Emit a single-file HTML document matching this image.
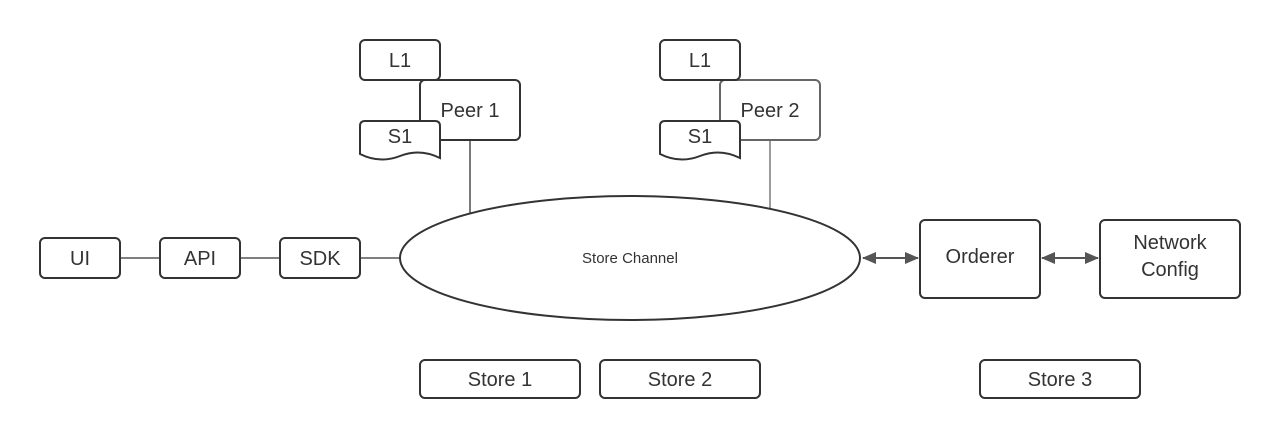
<!DOCTYPE html>
<html><head><style>body{margin:0;background:#fff}</style></head><body>
<svg width="1280" height="440" xmlns="http://www.w3.org/2000/svg" font-family="Liberation Sans, sans-serif" fill="none" stroke="#333" stroke-width="2">
<defs><marker id="a" markerWidth="14" markerHeight="12" refX="13" refY="6" orient="auto-start-reverse" markerUnits="userSpaceOnUse"><path d="M0,0 L14,6 L0,12z" fill="#555" stroke="none"/></marker></defs>
<g stroke-width="1.3">
<line x1="470" y1="140" x2="470" y2="214"/>
<line x1="770" y1="140" x2="770" y2="211" stroke="#666"/>
<line x1="120" y1="258" x2="160" y2="258"/>
<line x1="240" y1="258" x2="280" y2="258"/>
<line x1="360" y1="258" x2="400" y2="258"/>
</g>
<g stroke="#555" stroke-width="2">
<line x1="863" y1="258" x2="918" y2="258" marker-start="url(#a)" marker-end="url(#a)"/>
<line x1="1042" y1="258" x2="1098" y2="258" marker-start="url(#a)" marker-end="url(#a)"/>
</g>
<ellipse cx="630" cy="258" rx="230" ry="62" fill="#fff"/>
<rect x="420" y="80" width="100" height="60" rx="5" fill="#fff"/>
<rect x="360" y="40" width="80" height="40" rx="5" fill="#fff"/>
<path d="M365,121 H435 Q440,121 440,126 V158 Q420,148 400,156 Q380,164 360,154 V126 Q360,121 365,121z" fill="#fff"/>
<rect x="720" y="80" width="100" height="60" rx="5" fill="#fff" stroke="#666"/>
<rect x="660" y="40" width="80" height="40" rx="5" fill="#fff"/>
<path d="M665,121 H735 Q740,121 740,126 V158 Q720,148 700,156 Q680,164 660,154 V126 Q660,121 665,121z" fill="#fff"/>
<rect x="40" y="238" width="80" height="40" rx="5" fill="#fff"/>
<rect x="160" y="238" width="80" height="40" rx="5" fill="#fff"/>
<rect x="280" y="238" width="80" height="40" rx="5" fill="#fff"/>
<rect x="920" y="220" width="120" height="78" rx="5" fill="#fff"/>
<rect x="1100" y="220" width="140" height="78" rx="5" fill="#fff"/>
<rect x="420" y="360" width="160" height="38" rx="5" fill="#fff"/>
<rect x="600" y="360" width="160" height="38" rx="5" fill="#fff"/>
<rect x="980" y="360" width="160" height="38" rx="5" fill="#fff"/>
<g fill="#333" stroke="none" font-size="20" text-anchor="middle">
<text x="400" y="67">L1</text><text x="470" y="117">Peer 1</text><text x="400" y="143">S1</text>
<text x="700" y="67">L1</text><text x="770" y="117">Peer 2</text><text x="700" y="143">S1</text>
<text x="80" y="265">UI</text><text x="200" y="265">API</text><text x="320" y="265">SDK</text>
<text x="980" y="263">Orderer</text><text x="1170" y="249">Network</text><text x="1170" y="276">Config</text>
<text x="500" y="386">Store 1</text><text x="680" y="386">Store 2</text><text x="1060" y="386">Store 3</text>
<text x="630" y="263" font-size="15">Store Channel</text>
</g>
</svg>
</body></html>
